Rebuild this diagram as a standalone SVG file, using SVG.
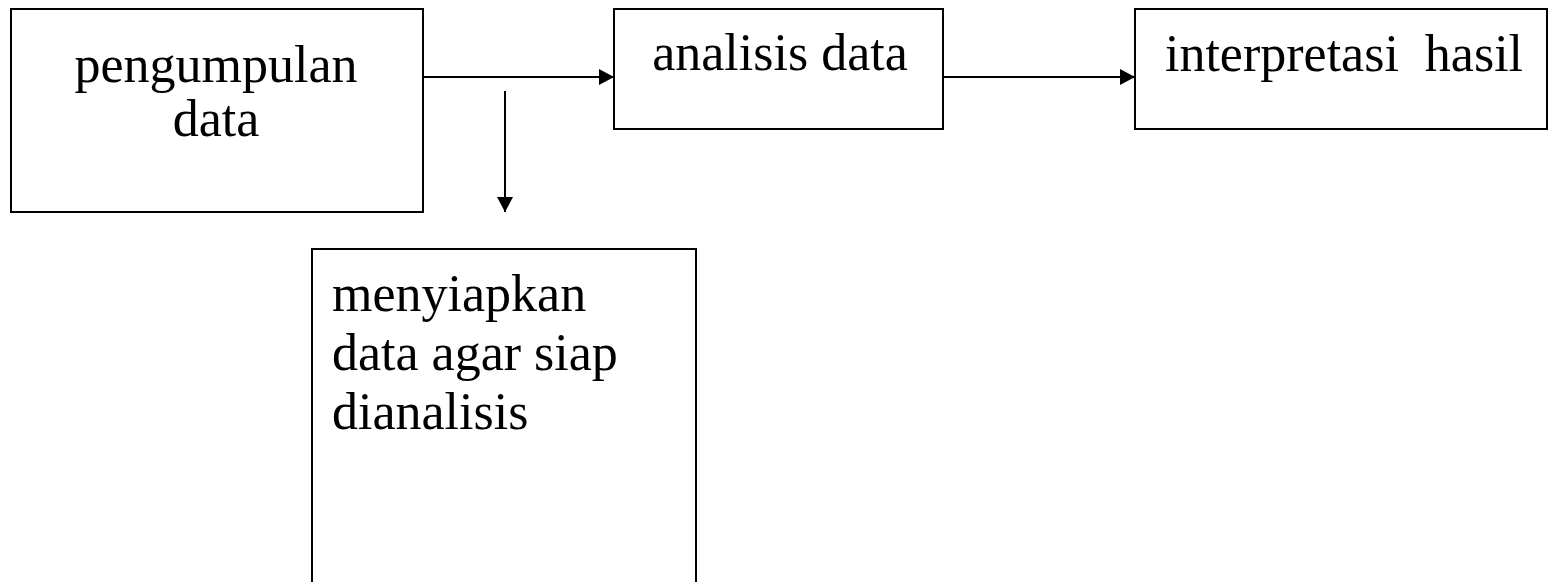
<svg xmlns="http://www.w3.org/2000/svg" width="1552" height="582" viewBox="0 0 1552 582">
  <style>
    .box { fill: #ffffff; stroke: #000000; stroke-width: 2; }
    .label { font-family: "Liberation Serif", "Times New Roman", serif; font-size: 52px; fill: #000000; }
    .mid { text-anchor: middle; }
    .wire { stroke: #000000; stroke-width: 2; fill: none; }
  </style>
  <defs>
    <marker id="arrow" markerWidth="15" markerHeight="16" refX="15" refY="8" orient="auto" markerUnits="userSpaceOnUse">
      <path d="M0,0 L15,8 L0,16 Z" fill="#000000"/>
    </marker>
  </defs>
  <rect width="1552" height="582" fill="#ffffff"/>

  <g id="node-pengumpulan">
    <rect class="box" x="11" y="9" width="412" height="203"/>
    <text class="label mid" x="216" y="82">pengumpulan</text>
    <text class="label mid" x="216" y="136">data</text>
  </g>

  <g id="node-analisis">
    <rect class="box" x="614" y="9" width="329" height="120"/>
    <text class="label mid" x="780" y="70">analisis data</text>
  </g>

  <g id="node-interpretasi">
    <rect class="box" x="1135" y="9" width="412" height="120"/>
    <text class="label mid" x="1344" y="71" xml:space="preserve">interpretasi  hasil</text>
  </g>

  <g id="node-menyiapkan">
    <!-- extends past the bottom edge of the canvas -->
    <rect class="box" x="312" y="249" width="384" height="360"/>
    <text class="label" x="332" y="311">menyiapkan</text>
    <text class="label" x="332" y="370">data agar siap</text>
    <text class="label" x="332" y="429">dianalisis</text>
  </g>

  <g id="connectors">
    <line class="wire" x1="423" y1="77" x2="614" y2="77" marker-end="url(#arrow)"/>
    <line class="wire" x1="943" y1="77" x2="1135" y2="77" marker-end="url(#arrow)"/>
    <line class="wire" x1="505" y1="91" x2="505" y2="212" marker-end="url(#arrow)"/>
  </g>
</svg>
